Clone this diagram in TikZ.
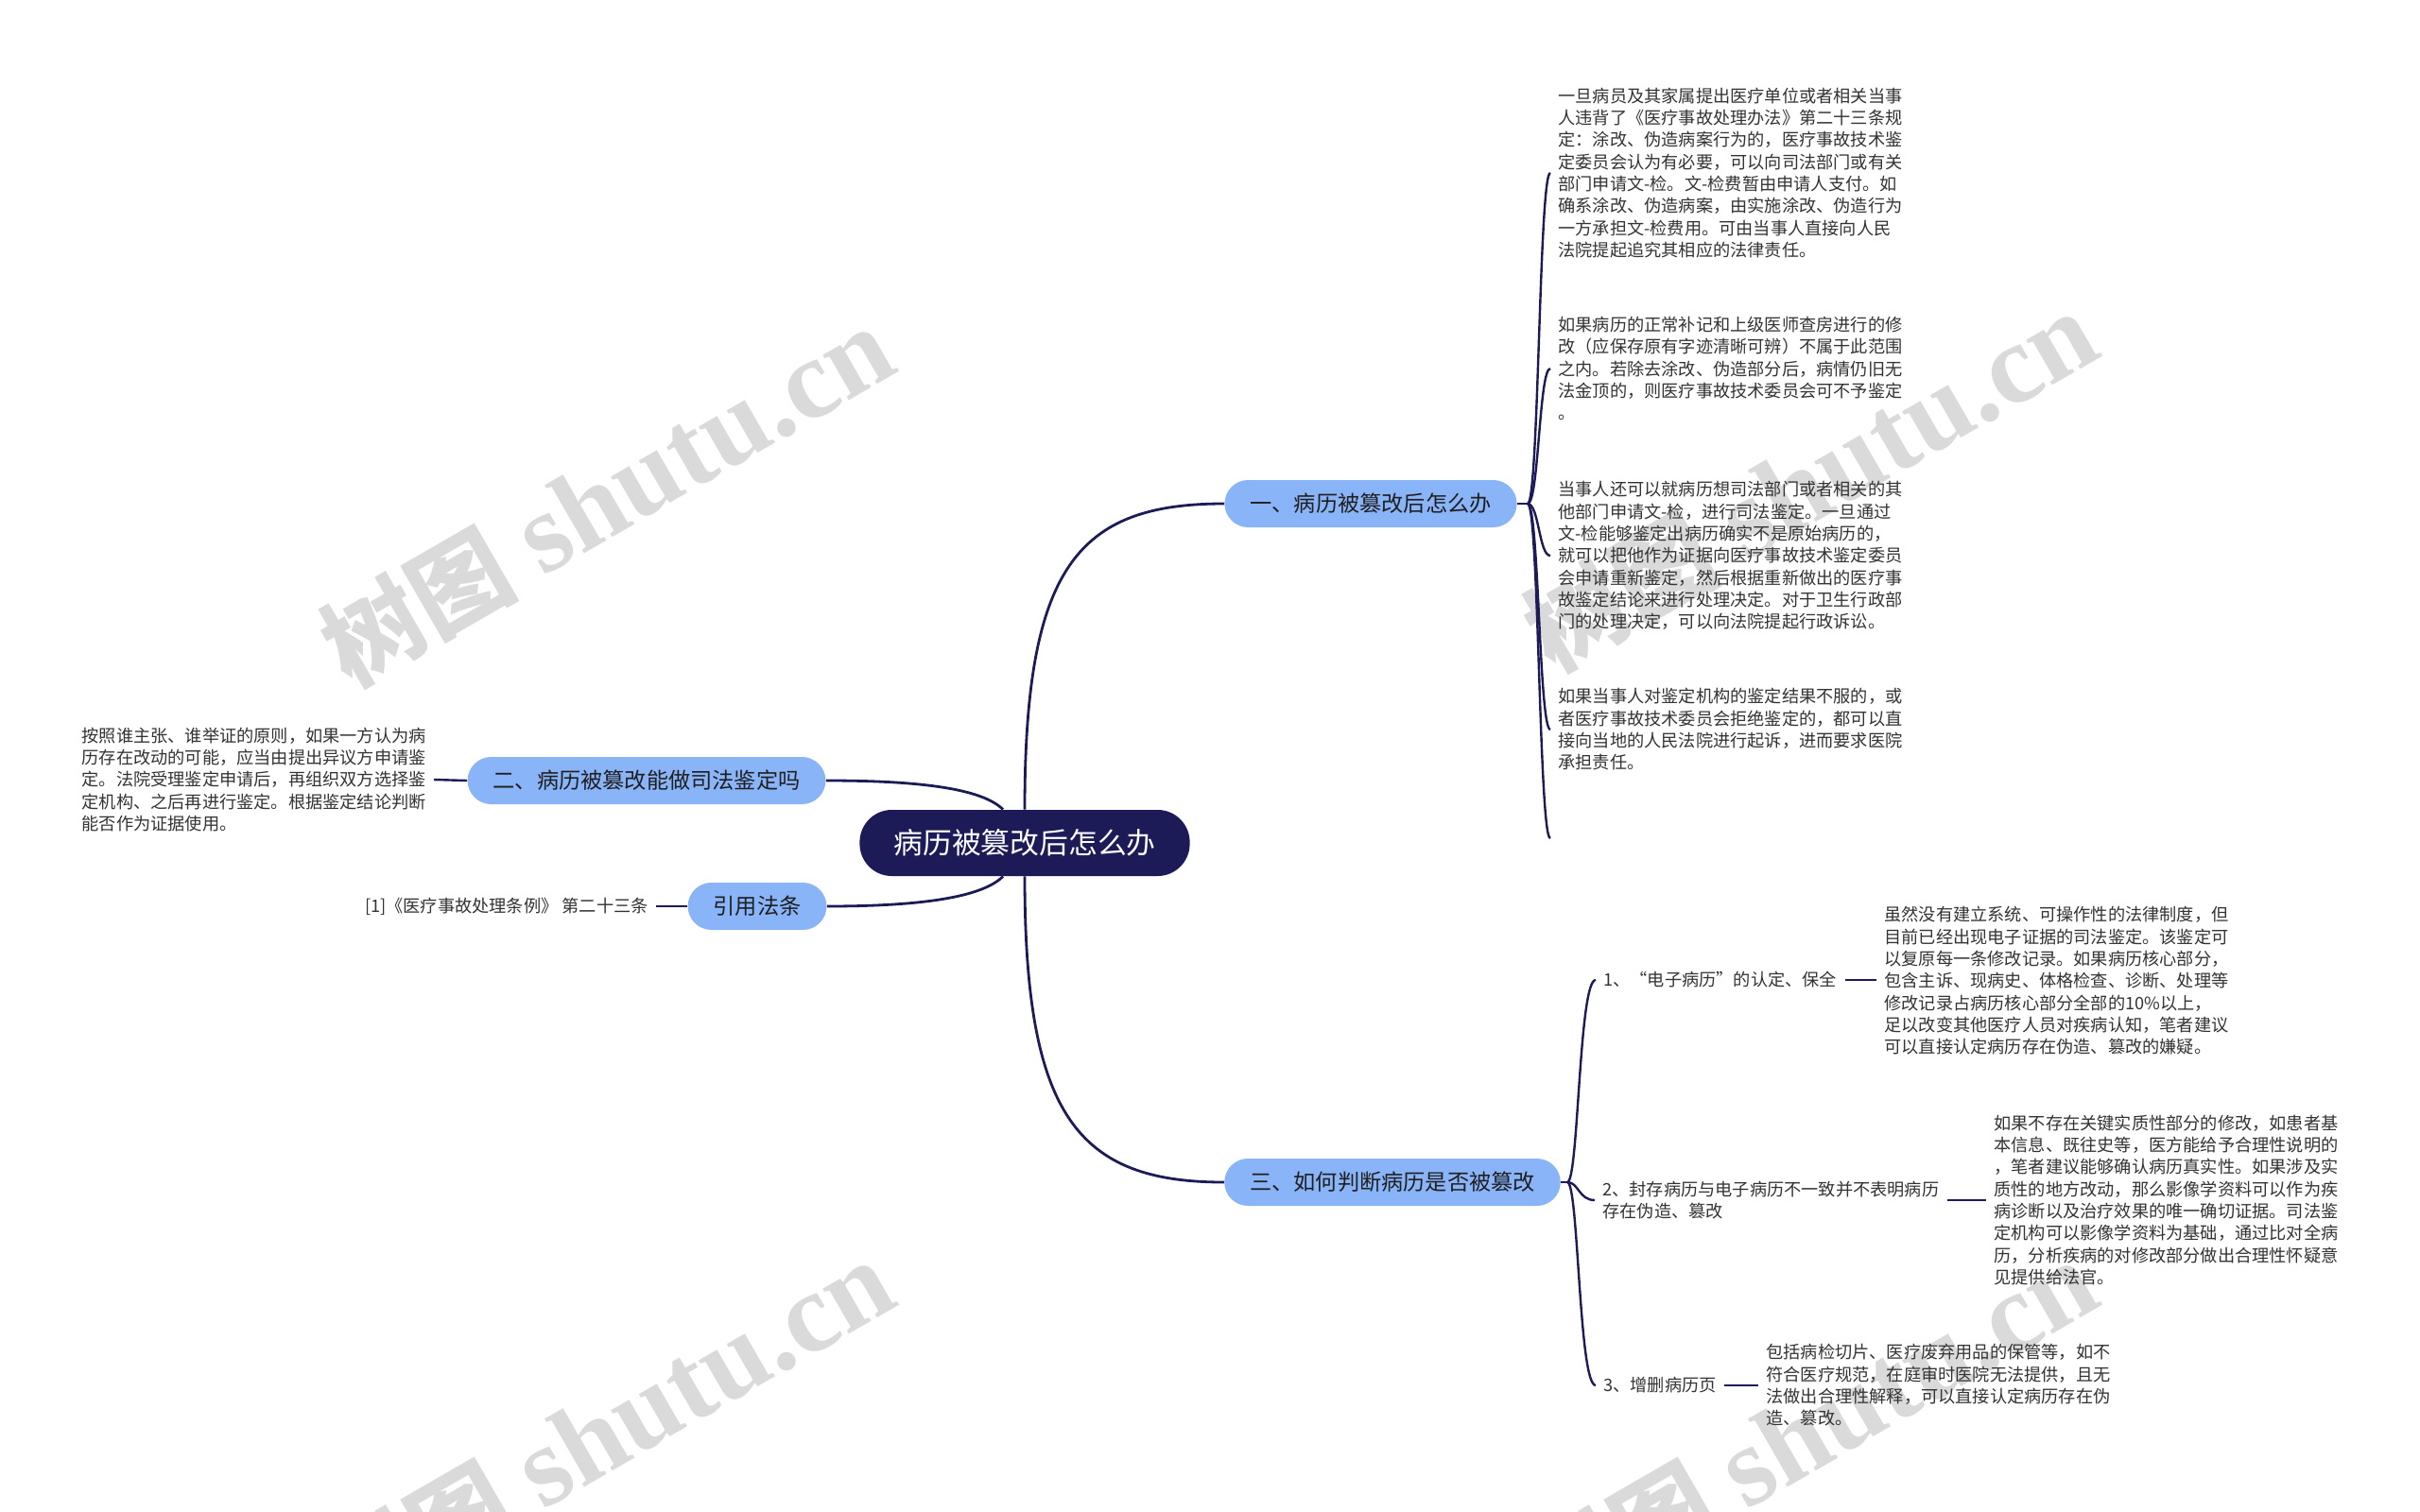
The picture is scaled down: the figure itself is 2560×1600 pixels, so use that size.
\documentclass[tikz,border=0pt]{standalone}
\usepackage{fontspec}
\setmainfont{Noto Sans CJK SC}
\newfontfamily\wmlatin{Liberation Serif}
\definecolor{navy}{RGB}{28,27,88}
\definecolor{bluefill}{RGB}{138,180,248}
\definecolor{txt}{RGB}{51,51,51}
\definecolor{wmgray}{RGB}{218,218,218}
\newcommand{\wmtext}{{\fontsize{52}{52}\selectfont\bfseries 树图}\hspace{14pt}{\wmlatin\fontsize{60}{60}\selectfont\bfseries shutu.cn}}
\begin{document}
\begin{tikzpicture}[x=0.5pt,y=-0.5pt,
  rootbox/.style={fill=navy, text=white, rounded corners=17pt, minimum height=35pt,
    inner xsep=18pt, inner ysep=0pt, font=\fontsize{15.4}{18}\selectfont},
  branchbox/.style={fill=bluefill, text=black!88, rounded corners=12.5pt, minimum height=25pt,
    inner xsep=13.5pt, inner ysep=0pt, font=\fontsize{11.6}{14}\selectfont},
  leaf/.style={text=txt, align=left, inner sep=4pt, font=\fontsize{9.1}{11.67}\selectfont},
  link/.style={draw=navy, line width=1.4pt},
  sublink/.style={draw=navy, line width=1.2pt},
  wm/.style={text=wmgray, rotate=30, inner sep=0pt}
]
\useasboundingbox (0,0) rectangle (2560,1600);
\fill[white] (0,0) rectangle (2560,1600);

% watermarks
\node[wm] (w1) at (642,526) {\wmtext};
\node[wm] (w2) at (1915,510) {\wmtext};
\node[wm] (w3) at (642,1514) {\wmtext};
\node[wm] (w4) at (1915,1514) {\wmtext};

% root and branches
\node[rootbox] (root) at (1084,892) {病历被篡改后怎么办};
\node[branchbox] (b1) at (1450,533) {一、病历被篡改后怎么办};
\node[branchbox] (b2) at (684,826) {二、病历被篡改能做司法鉴定吗};
\node[branchbox] (b3) at (801,959) {引用法条};
\node[branchbox] (b4) at (1473,1251) {三、如何判断病历是否被篡改};

% branch 1 children
\node[leaf, anchor=west] (c1) at (1640,183) {一旦病员及其家属提出医疗单位或者相关当事\\人违背了《医疗事故处理办法》第二十三条规\\定：涂改、伪造病案行为的，医疗事故技术鉴\\定委员会认为有必要，可以向司法部门或有关\\部门申请文-检。文-检费暂由申请人支付。如\\确系涂改、伪造病案，由实施涂改、伪造行为\\一方承担文-检费用。可由当事人直接向人民\\法院提起追究其相应的法律责任。};
\node[leaf, anchor=west] (c2) at (1640,390) {如果病历的正常补记和上级医师查房进行的修\\改（应保存原有字迹清晰可辨）不属于此范围\\之内。若除去涂改、伪造部分后，病情仍旧无\\法金顶的，则医疗事故技术委员会可不予鉴定\\。};
\node[leaf, anchor=west] (c3) at (1640,588) {当事人还可以就病历想司法部门或者相关的其\\他部门申请文-检，进行司法鉴定。一旦通过\\文-检能够鉴定出病历确实不是原始病历的，\\就可以把他作为证据向医疗事故技术鉴定委员\\会申请重新鉴定，然后根据重新做出的医疗事\\故鉴定结论来进行处理决定。对于卫生行政部\\门的处理决定，可以向法院提起行政诉讼。};
\node[leaf, anchor=west] (c4) at (1640,772) {如果当事人对鉴定机构的鉴定结果不服的，或\\者医疗事故技术委员会拒绝鉴定的，都可以直\\接向当地的人民法院进行起诉，进而要求医院\\承担责任。};
\coordinate (c5) at (1640,887);

% left children
\node[leaf, anchor=east] (b2t) at (459,825) {按照谁主张、谁举证的原则，如果一方认为病\\历存在改动的可能，应当由提出异议方申请鉴\\定。法院受理鉴定申请后，再组织双方选择鉴\\定机构、之后再进行鉴定。根据鉴定结论判断\\能否作为证据使用。};
\node[leaf, anchor=east] (b3t) at (694,959) {[1]《医疗事故处理条例》 第二十三条};

% branch 4 children
\node[leaf, anchor=west] (d1) at (1688,1037) {1、“电子病历”的认定、保全};
\node[leaf, anchor=west] (d1t) at (1985,1038) {虽然没有建立系统、可操作性的法律制度，但\\目前已经出现电子证据的司法鉴定。该鉴定可\\以复原每一条修改记录。如果病历核心部分，\\包含主诉、现病史、体格检查、诊断、处理等\\修改记录占病历核心部分全部的10\%以上，\\足以改变其他医疗人员对疾病认知，笔者建议\\可以直接认定病历存在伪造、篡改的嫌疑。};
\node[leaf, anchor=west] (d2) at (1687,1270) {2、封存病历与电子病历不一致并不表明病历\\存在伪造、篡改};
\node[leaf, anchor=west] (d2t) at (2101,1270) {如果不存在关键实质性部分的修改，如患者基\\本信息、既往史等，医方能给予合理性说明的\\，笔者建议能够确认病历真实性。如果涉及实\\质性的地方改动，那么影像学资料可以作为疾\\病诊断以及治疗效果的唯一确切证据。司法鉴\\定机构可以影像学资料为基础，通过比对全病\\历，分析疾病的对修改部分做出合理性怀疑意\\见提供给法官。};
\node[leaf, anchor=west] (d3) at (1688,1466) {3、增删病历页};
\node[leaf, anchor=west] (d3t) at (1860,1466) {包括病检切片、医疗废弃用品的保管等，如不\\符合医疗规范，在庭审时医院无法提供，且无\\法做出合理性解释，可以直接认定病历存在伪\\造、篡改。};

% main connectors
\draw[link] (root.north) .. controls +(0,-257) and +(-155,0) .. (b1.west);
\draw[link] (root.south) .. controls +(0,253) and +(-155,0) .. (b4.west);
\draw[link] (b2.east) .. controls +(100,0) and +(-22,-22) .. (root.123);
\draw[link] (b3.east) .. controls +(100,0) and +(-22,22) .. (root.237);

% branch 1 bracket
\coordinate (j1) at (1616,533);
\coordinate (k1) at (1628,533);
\draw[sublink] (b1.east) -- (j1);
\foreach \c in {c1,c2,c3,c4}
  \draw[sublink] (j1) .. controls (k1) and (k1 |- \c.west) .. (\c.west);
\draw[sublink] (j1) .. controls (k1) and (k1 |- c5) .. (c5);

% branch 4 bracket
\coordinate (j4) at (1658,1251);
\coordinate (k4) at (1670,1251);
\draw[sublink] (b4.east) -- (j4);
\foreach \c in {d1,d2,d3}
  \draw[sublink] (j4) .. controls (k4) and (k4 |- \c.west) .. (\c.west);

% leaf links
\draw[sublink] (b2t.east) -- (b2.west);
\draw[sublink] (b3t.east) -- (b3.west);
\draw[sublink] (d1.east) -- (d1t.west |- d1.east);
\draw[sublink] (d2.east) -- (d2t.west |- d2.east);
\draw[sublink] (d3.east) -- (d3t.west |- d3.east);
\end{tikzpicture}
\end{document}
